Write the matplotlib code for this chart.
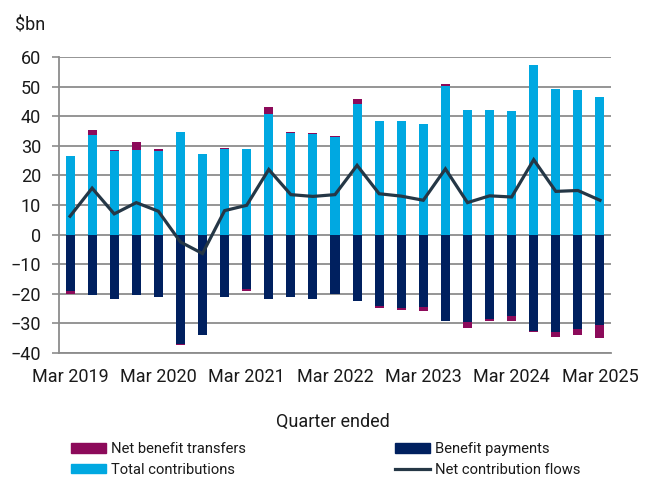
import matplotlib.pyplot as plt
from matplotlib.patches import Patch
from matplotlib.lines import Line2D
import numpy as np

quarters = ["Mar 2019", "Jun 2019", "Sep 2019", "Dec 2019",
            "Mar 2020", "Jun 2020", "Sep 2020", "Dec 2020",
            "Mar 2021", "Jun 2021", "Sep 2021", "Dec 2021",
            "Mar 2022", "Jun 2022", "Sep 2022", "Dec 2022",
            "Mar 2023", "Jun 2023", "Sep 2023", "Dec 2023",
            "Mar 2024", "Jun 2024", "Sep 2024", "Dec 2024",
            "Mar 2025"]
contributions = [26.5, 33.8, 28.4, 28.7, 28.4, 34.6, 27.3, 28.9, 28.9, 40.6,
                 34.3, 33.9, 32.9, 44.2, 38.4, 38.4, 37.3, 50.3, 42.0, 42.0,
                 41.7, 57.3, 49.1, 48.8, 46.4]
benefits = [-19.0, -20.4, -21.6, -20.4, -21.1, -37.0, -34.0, -21.1, -18.3, -21.6,
            -21.1, -21.6, -20.1, -22.5, -24.0, -24.9, -24.5, -29.1, -29.6, -28.5,
            -27.6, -32.6, -32.8, -31.9, -30.7]
transfers = [-1.1, 1.4, 0.3, 2.7, 0.4, -0.2, 0.0, 0.3, -0.6, 2.6,
             0.3, 0.4, 0.5, 1.7, -0.7, -0.6, -1.3, 0.6, -1.9, -0.6,
             -1.5, -0.2, -1.7, -2.0, -4.4]
net_flows = [6.2, 15.7, 7.0, 10.8, 7.9, -2.5, -6.4, 8.1, 9.9, 22.0,
             13.5, 12.9, 13.5, 23.4, 13.8, 13.0, 11.6, 22.2, 10.8, 13.1,
             12.7, 25.3, 14.6, 14.9, 11.6]

c_light = '#00a8e1'
c_navy = '#00205f'
c_mag = '#8c0a5a'
c_line = '#253746'
c_grid = '#8c8c8c'

plt.rcParams['font.family'] = ['Roboto', 'DejaVu Sans']

fig = plt.figure(figsize=(6.49, 4.82), dpi=100)
ax = fig.add_axes([59/649, 129/482, 552/649, 296/482])

x = np.arange(len(quarters))
contributions = np.array(contributions)
benefits = np.array(benefits)
transfers = np.array(transfers)
w = 0.41

ax.bar(x, contributions, w, color=c_light, zorder=2)
ax.bar(x, benefits, w, color=c_navy, zorder=2)
# transfers stack on top of contributions when positive, below benefits when negative
tr_base = np.where(transfers >= 0, contributions, benefits)
ax.bar(x, transfers, w, bottom=tr_base, color=c_mag, zorder=2)
ax.plot(x, net_flows, color=c_line, lw=2.3, zorder=3, solid_joinstyle='miter')

ax.set_xlim(-0.5, len(quarters) - 0.5)
ax.set_ylim(-40, 60)
ax.set_yticks(range(-40, 61, 10))
ax.yaxis.grid(True, color=c_grid, lw=1.3, zorder=0)
ax.set_axisbelow(True)

ax.set_xticks(x[::4])
ax.set_xticklabels(quarters[::4])
ax.tick_params(axis='x', length=0, pad=11, labelsize=13, colors='#1a1a1a')
ax.tick_params(axis='y', length=5, width=1.2, color=c_grid, pad=8,
               labelsize=13, labelcolor='#1a1a1a')

for s in ['top', 'right']:
    ax.spines[s].set_visible(False)
for s in ['left', 'bottom']:
    ax.spines[s].set_color(c_grid)
    ax.spines[s].set_linewidth(1.3)

fig.text(15/649, 1 - 26/482, '$bn', fontsize=13, va='center', ha='left',
         color='#1a1a1a')
fig.text(333/649, 1 - 422/482, 'Quarter ended', fontsize=13, va='center',
         ha='center', color='#1a1a1a')

leg_kw = dict(frameon=False, fontsize=10.6, handlelength=2.4, handleheight=0.65,
              handletextpad=0.3, labelspacing=0.45, borderpad=0, borderaxespad=0)
h1 = [Patch(color=c_mag, label='Net benefit transfers'),
      Patch(color=c_light, label='Total contributions')]
h2 = [Patch(color=c_navy, label='Benefit payments'),
      Line2D([], [], color=c_line, lw=2.3, label='Net contribution flows')]
for handles, xl in ((h1, 71), (h2, 395)):
    leg = fig.legend(handles=handles, loc='upper left',
                     bbox_to_anchor=(xl/649, 1 - 442/482), **leg_kw)
    for t in leg.get_texts():
        t.set_color('#1a1a1a')

fig.savefig('out.png', dpi=100)
